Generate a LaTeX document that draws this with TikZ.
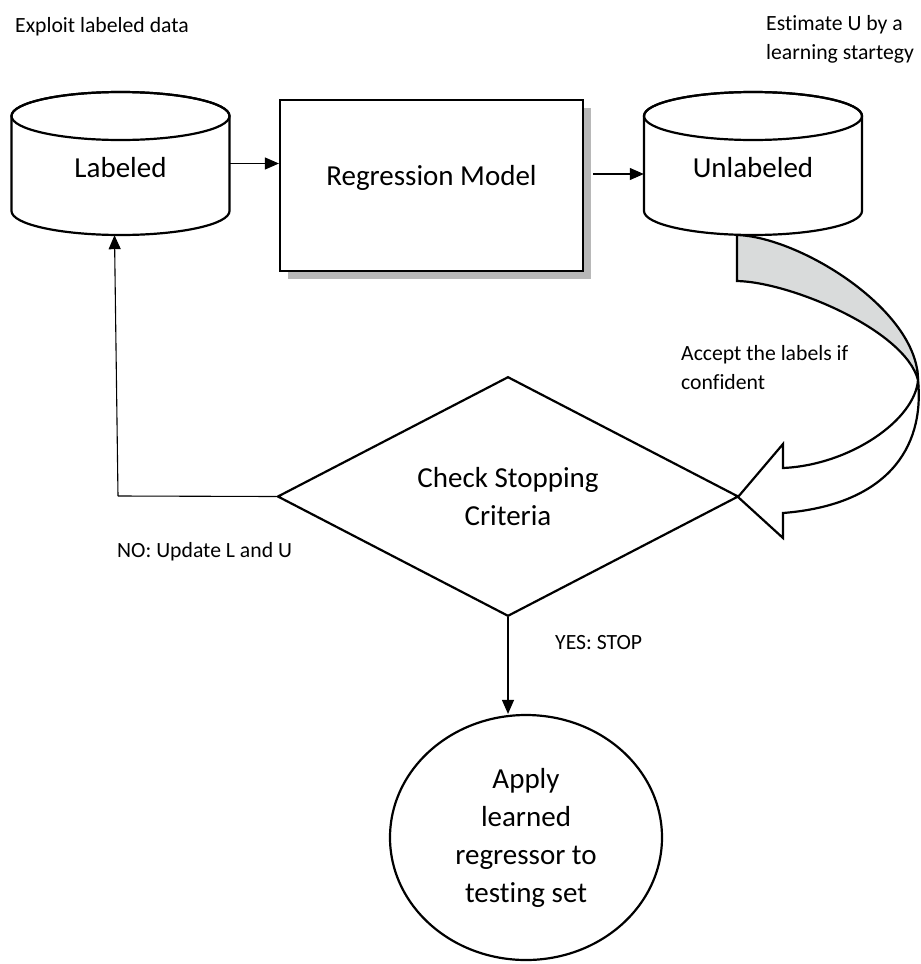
\documentclass[tikz,border=0pt]{standalone}
\usepackage{fontspec}
\setmainfont[Ligatures={NoCommon}]{Carlito}
\usetikzlibrary{arrows.meta,shapes.geometric,shadows,calc}
\definecolor{bandgray}{RGB}{217,219,219}
\begin{document}
\begin{tikzpicture}[x=1pt,y=-1pt,line join=miter,
  big/.style={font=\fontsize{29}{38}\selectfont,align=center},
  small/.style={font=\fontsize{21.7}{29}\selectfont,align=left,inner sep=0pt},
  outline/.style={line width=2.2pt},
  conn/.style={line width=1.1pt,-{Triangle[length=14pt,width=12pt]}},
  holder/.style={draw=none,minimum width=218pt,minimum height=143pt,inner sep=0pt},
  cyl/.pic={
    \draw[outline,fill=white] (-109,-47.5) -- (-109,47.5)
      arc[start angle=180,end angle=360,x radius=109pt,y radius=24pt]
      -- (109,-47.5)
      arc[start angle=0,end angle=180,x radius=109pt,y radius=24pt] -- cycle;
    \draw[outline] (0,-47.5) ellipse[x radius=109pt,y radius=24pt];
  }
]
\useasboundingbox (0,0) rectangle (921,964);
\fill[white] (0,0) rectangle (921,964);

% curved arrow (drawn before the cylinder)
\draw[outline,fill=bandgray] (737,235) .. controls (800,237) and (918,310) .. (918,380)
   .. controls (905,330) and (790,282) .. (737,281) -- cycle;

% cylinders
\pic at (120.5,163.5) {cyl};
\node[holder] (lab) at (120.5,163.5) {};
\node[big] (labt) at (120.5,168) {Labeled};

\pic at (753,163.5) {cyl};
\node[holder] (unl) at (753,163.5) {};
\node[big] (unlt) at (753,168) {Unlabeled};

% regression box
\node[outline,draw,fill=white,minimum width=303pt,minimum height=171pt,inner sep=0pt,
  drop shadow={shadow xshift=8pt,shadow yshift=-8pt,fill=black!28,opacity=1}]
  (box) at (431.5,185.5) {};
\node[big] (boxt) at (431.5,178) {Regression Model};

% diamond
\node[diamond,outline,draw,fill=white,minimum width=461pt,minimum height=183pt,inner sep=0pt,big]
  (dia) at (508,496.5) {Check Stopping\\Criteria};

% lower part of curved arrow
\draw[outline,fill=white] (918,380) .. controls (915,420) and (850,465) .. (783,468)
  -- (783,444) -- (738,497) -- (783,538) -- (783,513)
  .. controls (885,505) and (925,450) .. (918,380) -- cycle;

% ellipse
\node[ellipse,outline,draw,fill=white,minimum width=272pt,minimum height=245pt,inner sep=0pt,big]
  (circ) at (526,837.5) {Apply\\learned\\regressor to\\testing set};

% connectors
\draw[conn] (lab.east) -- (box.west |- lab.east);
\draw[conn] ([xshift=9pt,yshift=11.5pt]box.east) -- ([yshift=-10.5pt]unl.west);
\coordinate (nocorner) at (118,496);
\draw[line width=1.1pt] (dia.west) -- (nocorner);
\draw[conn] (nocorner) -- ([xshift=-6pt]lab.south);
\draw[conn] (dia.south) -- (dia.south |- circ.north);

% labels
\node[small,anchor=west] (t1) at (15,27) {Exploit labeled data};
\node[small,anchor=west] (t2) at (766,39) {Estimate U by a\\learning startegy};
\node[small,anchor=west] (t3) at (681,367.5) {Accept the labels if\\confident};
\node[small,anchor=west] (t4) at (117,552) {NO: Update L and U};
\node[small,anchor=west] (t5) at (555,643) {YES: STOP};
\end{tikzpicture}
\end{document}
